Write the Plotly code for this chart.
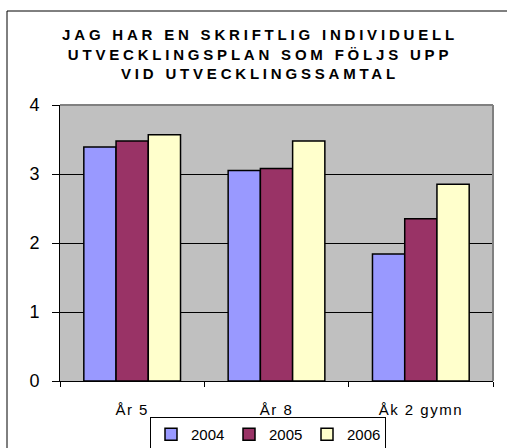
import plotly.graph_objects as go

categories = ["År 5", "År 8", "Åk 2 gymn"]
series_names = ["2004", "2005", "2006"]
values_2004 = [3.39, 3.05, 1.84]
values_2005 = [3.48, 3.08, 2.35]
values_2006 = [3.57, 3.48, 2.85]
colors = ["#9999FF", "#993366", "#FFFFCC"]
y_ticks = [0, 1, 2, 3, 4]
title_text = "JAG HAR EN SKRIFTLIG INDIVIDUELL<br>UTVECKLINGSPLAN SOM FÖLJS UPP<br>VID UTVECKLINGSSAMTAL"

FONT = "Liberation Sans, Arial, sans-serif"

fig = go.Figure()
for name, vals, col in zip(series_names, [values_2004, values_2005, values_2006], colors):
    fig.add_trace(go.Bar(
        x=categories, y=vals, name=name,
        marker=dict(color=col, line=dict(color="black", width=1.5)),
    ))

W, H = 507, 448
L, R, T, B = 60, 14, 105, 67
pw, ph = W - L - R, H - T - B

def px_x(x):
    return (x - L) / pw

def px_y(y):
    return (H - B - y) / ph

fig.update_layout(
    width=W, height=H,
    margin=dict(l=L, r=R, t=T, b=B, pad=0, autoexpand=False),
    paper_bgcolor="white",
    plot_bgcolor="#C0C0C0",
    barmode="group",
    bargap=0.33,
    bargroupgap=0,
    font=dict(family=FONT, color="black"),
    title=dict(
        text=title_text,
        font=dict(family=FONT, size=15, color="black", weight="bold"),
        x=260 / W, xanchor="center", xref="container",
        y=1 - 40 / H, yanchor="top", yref="container",
    ),
    xaxis=dict(
        type="category",
        showline=True, linecolor="black", linewidth=1,
        ticks="outside", ticklen=5, tickcolor="black", tickson="boundaries",
        tickfont=dict(size=15, family=FONT, color="black"),
        showgrid=False,
        ticklabelstandoff=15,
    ),
    yaxis=dict(
        range=[0, 4],
        tickvals=y_ticks,
        showline=True, linecolor="black", linewidth=1,
        ticks="outside", ticklen=7, tickcolor="black",
        tickfont=dict(size=18, family=FONT, color="black"),
        showgrid=True, gridcolor="black", gridwidth=1,
        zeroline=False,
        ticklabelstandoff=9,
    ),
    legend=dict(
        orientation="h",
        x=px_x(150), xanchor="left",
        y=px_y(417), yanchor="top",
        bordercolor="black", borderwidth=1,
        bgcolor="white",
        font=dict(size=15, family=FONT, color="black"),
        entrywidth=33, entrywidthmode="pixels",
        itemwidth=30,
    ),
    shapes=[
        dict(type="rect", xref="paper", yref="paper",
             x0=px_x(7), x1=px_x(520), y0=px_y(470), y1=px_y(11),
             line=dict(color="black", width=1), fillcolor="rgba(0,0,0,0)", layer="below"),
        dict(type="line", xref="paper", yref="paper", x0=0, x1=1, y0=1, y1=1,
             line=dict(color="#808080", width=2), layer="above"),
        dict(type="line", xref="paper", yref="paper", x0=1, x1=1, y0=0, y1=1,
             line=dict(color="#808080", width=2), layer="above"),
    ],
)

post = """
document.documentElement.style.margin = '0';
document.body.style.margin = '0';
document.body.style.overflow = 'hidden';
var gd = document.getElementById('{plot_id}');
gd.querySelectorAll('.gtitle').forEach(function(e){ e.style.letterSpacing = '3.8px'; });
gd.querySelectorAll('.xtick text').forEach(function(e){ e.style.letterSpacing = '1.5px'; });
"""

fig.write_html("out.html", post_script=post, config={"displayModeBar": False})
